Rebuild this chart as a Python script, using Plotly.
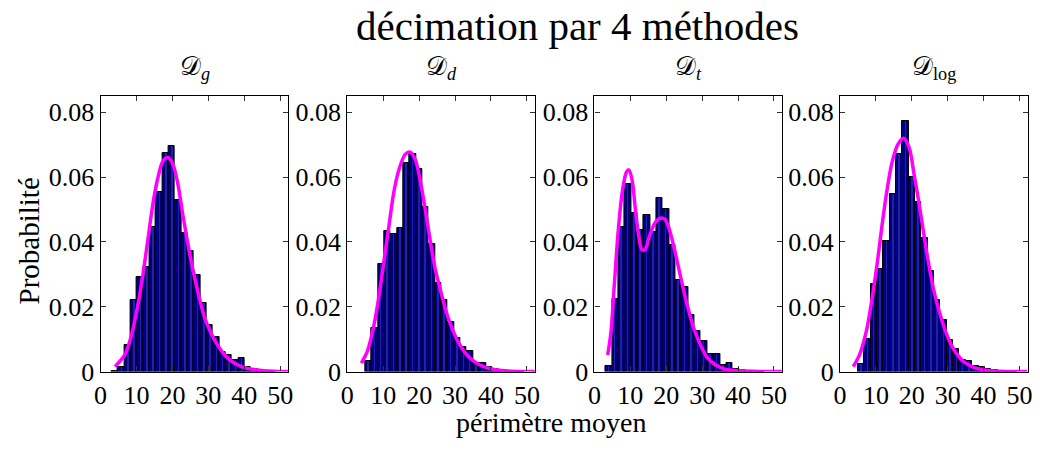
import plotly.graph_objects as go

# histogram bin centres (périmètre moyen) and probabilities
centres_g = [3.98, 5.74, 7.50, 9.26, 11.02, 12.78, 14.54, 16.30, 18.06, 19.82, 21.58, 23.34, 25.10,
             26.86, 28.62, 30.38, 32.14, 33.90, 35.66, 37.42, 39.18, 40.94, 42.70, 44.46, 46.22, 47.98]
prob_g = [0.0003, 0.0013, 0.0083, 0.0220, 0.0292, 0.0321, 0.0445, 0.0553, 0.0675, 0.0697, 0.0530, 0.0428, 0.0371,
          0.0297, 0.0212, 0.0145, 0.0107, 0.0061, 0.0051, 0.0035, 0.0043, 0.0015, 0.0008, 0.0004, 0.0002, 0.0001]

centres_d = [5.84, 7.61, 9.38, 11.15, 12.92, 14.69, 16.46, 18.23, 20.00, 21.77, 23.54, 25.31, 27.08,
             28.85, 30.62, 32.39, 34.16, 35.93, 37.70, 39.47, 41.24, 43.01, 44.78, 46.55, 48.32]
prob_d = [0.0033, 0.0135, 0.0331, 0.0434, 0.0423, 0.0444, 0.0643, 0.0670, 0.0625, 0.0508, 0.0394, 0.0273, 0.0221,
          0.0154, 0.0102, 0.0075, 0.0063, 0.0026, 0.0026, 0.0013, 0.0007, 0.0003, 0.0002, 0.0001, 0.0001]

centres_t = [3.99, 5.76, 7.53, 9.30, 11.07, 12.84, 14.61, 16.38, 18.15, 19.92, 21.69, 23.46, 25.23,
             27.00, 28.77, 30.54, 32.31, 34.08, 35.85, 37.62, 39.39, 41.16, 42.93, 44.70, 46.47]
prob_t = [0.0017, 0.0223, 0.0447, 0.0578, 0.0488, 0.0436, 0.0483, 0.0431, 0.0534, 0.0500, 0.0389, 0.0282, 0.0262,
          0.0174, 0.0124, 0.0095, 0.0053, 0.0053, 0.0021, 0.0026, 0.0007, 0.0006, 0.0003, 0.0001, 0.0001]

centres_log = [5.84, 7.61, 9.38, 11.15, 12.92, 14.69, 16.46, 18.23, 20.00, 21.77, 23.54, 25.31, 27.08,
               28.85, 30.62, 32.39, 34.16, 35.93, 37.70, 39.47, 41.24, 43.01, 44.78, 46.55, 48.32]
prob_log = [0.0023, 0.0100, 0.0270, 0.0316, 0.0404, 0.0549, 0.0670, 0.0774, 0.0600, 0.0524, 0.0411, 0.0309, 0.0222,
            0.0160, 0.0098, 0.0071, 0.0035, 0.0033, 0.0017, 0.0015, 0.0007, 0.0005, 0.0002, 0.0001, 0.0001]

bin_width = 1.77

# fitted densities (magenta curves)
fit_g_x = [4.0, 6.8, 8.6, 10.5, 11.8, 13.2, 14.6, 16.0, 17.3, 18.7, 20.1, 21.5, 22.8, 24.2, 25.6,
           27.0, 28.8, 30.6, 32.5, 34.8, 37.1, 39.8, 43.5, 48.1, 52.2]
fit_g_y = [0.0015, 0.0053, 0.0112, 0.0212, 0.0300, 0.0410, 0.0520, 0.0600, 0.0648, 0.0660, 0.0640, 0.0580, 0.0490,
           0.0400, 0.0320, 0.0250, 0.0172, 0.0122, 0.0083, 0.0048, 0.0027, 0.0013, 0.0005, 0.0001, 0.0]

fit_d_x = [3.9, 5.6, 7.4, 8.8, 10.2, 11.6, 12.9, 14.3, 16.1, 17.5, 18.9, 20.3, 21.7, 23.0, 24.4,
           25.8, 27.6, 29.4, 31.3, 34.0, 36.8, 40.5, 44.1, 49.6, 52.2]
fit_d_y = [0.0026, 0.0063, 0.0142, 0.0232, 0.0341, 0.0450, 0.0550, 0.0620, 0.0670, 0.0677, 0.0655, 0.0590, 0.0500,
           0.0410, 0.0320, 0.0257, 0.0182, 0.0127, 0.0083, 0.0043, 0.0021, 0.0007, 0.0002, 0.0, 0.0]

fit_t_x = [3.7, 4.6, 5.5, 6.6, 7.7, 8.9, 9.6, 10.5, 11.4, 12.3, 13.2, 14.1, 15.3, 16.7, 18.3, 19.6,
           20.8, 22.2, 24.0, 25.9, 27.7, 29.5, 31.4, 33.7, 36.4, 40.6, 46.1, 52.2]
fit_t_y = [0.0051, 0.0122, 0.0262, 0.0431, 0.0550, 0.0615, 0.0622, 0.0590, 0.0500, 0.0421, 0.0376, 0.0376, 0.0416,
           0.0456, 0.0473, 0.0470, 0.0441, 0.0381, 0.0292, 0.0202, 0.0132, 0.0083, 0.0043, 0.0021, 0.0007, 0.0002,
           0.0, 0.0]

fit_log_x = [3.7, 5.5, 7.3, 8.9, 10.4, 11.7, 13.1, 14.5, 16.1, 17.7, 19.3, 20.6, 22.0, 23.4, 24.8,
             26.3, 28.0, 29.8, 31.7, 34.4, 37.2, 40.8, 46.3, 52.2]
fit_log_y = [0.0015, 0.0053, 0.0122, 0.0222, 0.0336, 0.0450, 0.0560, 0.0645, 0.0700, 0.0720, 0.0690, 0.0610, 0.0520,
             0.0420, 0.0326, 0.0242, 0.0172, 0.0112, 0.0068, 0.0031, 0.0013, 0.0004, 0.0, 0.0]

panels = [
    ("𝒟<sub><i>g</i></sub>", centres_g, prob_g, fit_g_x, fit_g_y),
    ("𝒟<sub><i>d</i></sub>", centres_d, prob_d, fit_d_x, fit_d_y),
    ("𝒟<sub><i>t</i></sub>", centres_t, prob_t, fit_t_x, fit_t_y),
    ("𝒟<sub>log</sub>", centres_log, prob_log, fit_log_x, fit_log_y),
]

W, H = 1040, 451
left_px = [94.7, 344.3, 594.3, 842.7]
panel_w = 190.0
top_px, bottom_px = 99.3, 384.3

FONT = "Liberation Serif"


def px_x(x):
    return x / W


def px_y(y):
    return 1 - y / H


def label(text, x, y, size, angle=0):
    return dict(text=text, x=px_x(x), y=px_y(y), xref="paper", yref="paper",
                xanchor="center", yanchor="middle", showarrow=False, textangle=angle,
                font=dict(family=FONT, size=size, color="black"))


fig = go.Figure()
layout = dict()
annotations = []

for i, (title, cx, py, fx, fy) in enumerate(panels):
    n = "" if i == 0 else str(i + 1)
    xa, ya = "x" + n, "y" + n
    fig.add_trace(go.Bar(x=cx, y=py, width=bin_width, xaxis=xa, yaxis=ya,
                         marker=dict(color="#000080", line=dict(color="black", width=1)),
                         showlegend=False, hoverinfo="x+y"))
    # light stripe inside each bar
    fig.add_trace(go.Bar(x=cx, y=py, width=0.15, xaxis=xa, yaxis=ya,
                         marker=dict(color="#4a4ad8", line=dict(width=0)), opacity=0.45,
                         showlegend=False, hoverinfo="skip"))
    fig.add_trace(go.Scatter(x=fx, y=fy, mode="lines", xaxis=xa, yaxis=ya,
                             line=dict(color="#ff00ff", width=3.5, shape="spline", smoothing=0.8),
                             showlegend=False))
    axis_common = dict(showline=True, linecolor="black", linewidth=1.2, mirror="ticks",
                       ticks="inside", ticklen=5, tickcolor="#333333", showgrid=False, zeroline=False,
                       tickfont=dict(family=FONT, size=26, color="black"))
    layout["xaxis" + n] = dict(domain=[px_x(left_px[i]), px_x(left_px[i] + panel_w)], range=[0, 52.3],
                               tickvals=[0, 10, 20, 30, 40, 50], anchor=ya, **axis_common)
    layout["yaxis" + n] = dict(domain=[px_y(bottom_px), px_y(top_px)], range=[0, 0.085],
                               tickvals=[0, 0.02, 0.04, 0.06, 0.08],
                               ticktext=["0", "0.02", "0.04", "0.06", "0.08"],
                               anchor=xa, **axis_common)
    annotations.append(label(title, left_px[i] + panel_w / 2, 70, 26))

annotations.append(label("décimation par 4 méthodes", 577, 27, 41))
annotations.append(label("périmètre moyen", 550, 437, 28))
annotations.append(label("Probabilité", 22, 249, 29, angle=-90))

fig.update_layout(width=W, height=H, margin=dict(l=0, r=0, t=0, b=0), barmode="overlay",
                  plot_bgcolor="white", paper_bgcolor="white", bargap=0,
                  annotations=annotations, **layout)

# drop the default 8px page margin so the figure sits at the window's corner
fig.write_html("out.html", config={"displayModeBar": False},
               post_script="document.body.style.margin='0';")
